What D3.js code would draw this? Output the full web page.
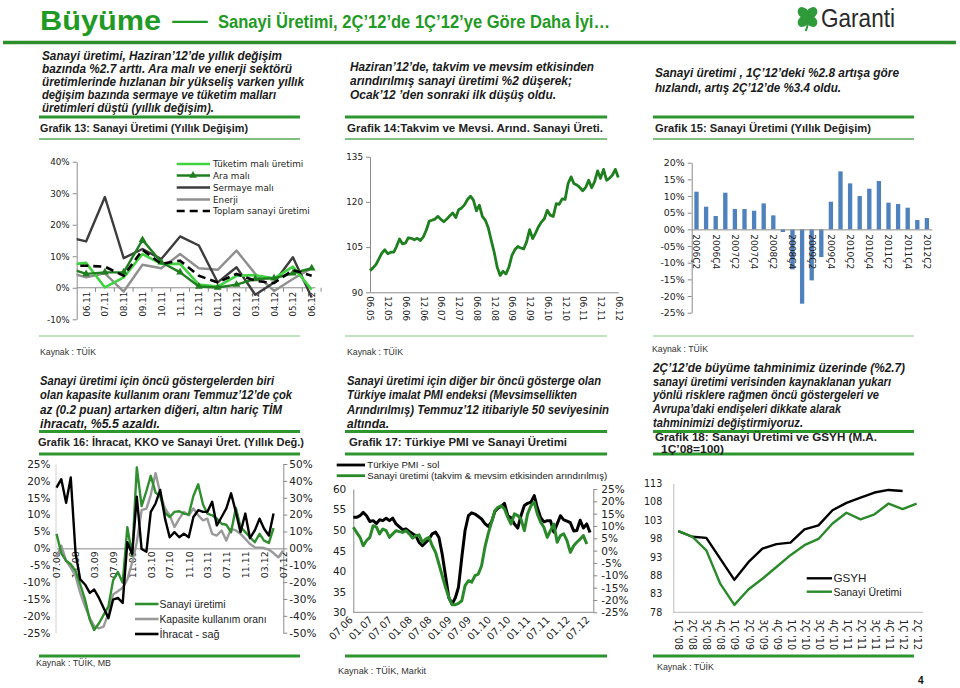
<!DOCTYPE html>
<html><head><meta charset="utf-8">
<script src="https://cdn.jsdelivr.net/npm/d3@7/dist/d3.min.js"></script>
<style>html,body{margin:0;padding:0;background:#fff}svg{display:block}</style>
</head><body>
<svg id="page" width="960" height="688"></svg>
<script>
// ================= DATA =================
// Grafik 13 – monthly yoy % (first month only partly visible at the axis)
const c13Months = ["05.11","06.11","07.11","08.11","09.11","10.11","11.11","12.11","01.12","02.12","03.12","04.12","05.12","06.12"];
const c13Tuketim = [7.3,7.9,0.1,3.3,10.7,7.6,7.6,1.0,0.4,3.8,4.0,3.0,6.7,-0.6];
const c13Ara     = [6.4,4.4,4.9,4.9,15.2,8.1,4.9,0.4,0.1,1.0,2.8,3.0,4.6,6.2];
const c13Sermaye = [16.1,14.7,28.8,9.4,12.3,9.1,16.3,13.4,1.7,6.5,-2.2,1.7,9.7,-3.1];
const c13Enerji  = [5.0,3.3,4.6,-1.2,7.3,6.2,10.7,6.2,5.7,11.8,4.4,-1.0,2.8,6.2];
const c13Toplam  = [7.0,7.0,6.7,3.8,12.0,7.6,8.6,3.8,1.7,4.4,2.2,1.5,5.6,3.8];
const c13Names   = ["Tüketim malı üretimi","Ara malı","Sermaye malı","Enerji","Toplam sanayi üretimi"];
const c13Ticks   = [-10,0,10,20,30,40];

// Grafik 14 – seasonally adjusted index, monthly from 06.05 to 06.12
const c14First  = "06.05";
const c14Values = [97.2,98.1,99.2,101.1,103.0,104.1,102.8,103.3,103.3,105.2,
  107.7,106.1,106.3,108.1,107.9,107.4,107.9,107.2,108.3,110.6,
  113.6,113.9,114.3,115.2,114.2,113.4,114.3,115.4,116.3,114.8,
  117.4,118.0,119.1,120.8,121.9,120.6,117.0,118.9,115.2,113.9,
  111.4,107.2,103.3,98.3,95.6,97.0,96.1,98.3,102.2,104.1,
  105.2,104.7,104.4,106.9,110.8,107.8,109.7,111.7,113.3,114.4,
  117.2,115.6,115.2,119.4,119.2,121.0,120.8,126.1,128.3,126.1,
  125.6,124.8,123.7,124.8,127.2,124.7,126.7,130.3,127.8,130.8,
  127.2,127.8,128.9,130.8,128.1];
const c14Labels = ["06.05","12.05","06.06","12.06","06.07","12.07","06.08","12.08","06.09","12.09","06.10","12.10","06.11","12.11","06.12"];
const c14Ticks  = [90,105,120,135];

// Grafik 15 – quarterly yoy %
const c15Quarters = ["2006Ç2","2006Ç3","2006Ç4","2007Ç1","2007Ç2","2007Ç3","2007Ç4","2008Ç1","2008Ç2","2008Ç3","2008Ç4",
  "2009Ç1","2009Ç2","2009Ç3","2009Ç4","2010Ç1","2010Ç2","2010Ç3","2010Ç4","2011Ç1","2011Ç2","2011Ç3","2011Ç4","2012Ç1","2012Ç2"];
const c15Values = [11.3,6.8,4.0,11.0,6.1,6.1,5.6,7.8,4.2,-0.8,-12.0,-22.3,-15.3,-8.3,8.3,17.4,13.8,10.0,12.2,14.5,8.0,7.6,6.5,2.8,3.4];
const c15Ticks  = [-25,-20,-15,-10,-5,0,5,10,15,20];

// Grafik 16 – monthly from 07.08
const c16First    = "07.08";
const c16Sanayi   = [4.3,-1.4,-3.7,-4.7,-6.7,-10.7,-15.2,-21.2,-24.2,-22.2,-19.7,-17.2,-9.5,-7.0,-10.2,6.3,-2.2,24.0,12.5,17.0,
  21.5,16.5,15.5,10.5,9.3,10.8,11.0,10.3,10.0,15.5,19.0,13.0,10.3,9.8,8.8,7.3,7.0,4.8,12.0,6.3,4.8,3.3,1.8,4.3,2.3,1.6,6.0];
const c16Kapasite = [-2.7,0.8,-3.7,-5.7,-8.2,-13.2,-17.2,-20.7,-23.0,-23.7,-23.2,-19.2,-13.7,-12.7,-11.7,-9.2,-4.2,1.8,11.3,11.8,
  15.8,22.3,16.3,11.8,9.8,6.3,8.8,10.8,9.8,11.8,9.8,8.3,8.8,4.3,3.8,5.3,2.3,5.8,5.3,4.3,2.8,1.3,0.3,0.2,0.1,-0.4,-1.4,-2.7,-0.7];
const c16Ihracat  = [36,41,27,42,-3,-18.4,-21.4,-26.4,-24.4,-29.4,-35.4,-41.4,-30.4,-29.4,-32.4,3.6,-3.4,30.6,-0.4,-2.0,
  21.6,26.6,34.6,17.6,6.6,9.6,6.6,8.6,6.6,18.6,22.6,21.6,21.6,27.6,13.6,18.6,23.6,32.6,21.6,9.6,20.6,6.0,10.6,17.6,11.6,7.6,20.6];
const c16Names  = ["Sanayi üretimi","Kapasite kullanım oranı","İhracat - sağ"];
const c16Labels = ["07.08","11.08","03.09","07.09","11.09","03.10","07.10","11.10","03.11","07.11","11.11","03.12","07.12"];
const c16LeftTicks  = [-25,-20,-15,-10,-5,0,5,10,15,20,25];
const c16RightTicks = [-50,-40,-30,-20,-10,0,10,20,30,40,50];

// Grafik 17 – monthly from 07.06
const c17First  = "07.06";
const c17PMI    = [53.1,53.1,53.5,54.3,53.5,52.1,52.3,51.6,52.5,52.3,52.9,52.3,52.9,51.5,50.8,50.1,50.3,49.7,49.1,48.6,
  47.0,46.2,47.0,47.8,49.1,49.5,48.2,44.2,38.9,33.6,32.0,33.6,36.1,43.4,49.9,53.5,54.2,53.9,53.3,52.7,
  51.6,50.9,52.0,54.5,55.3,55.8,56.5,53.5,53.0,51.5,50.5,53.5,56.0,56.5,56.8,58.4,55.5,53.0,52.0,52.3,
  52.3,49.5,51.5,53.5,52.5,52.2,51.8,49.8,49.9,52.4,50.5,51.5,49.4];
const c17Sanayi = [9.5,7.4,5.4,2.0,4.1,5.4,10.1,9.5,6.8,8.8,8.1,5.4,6.8,8.1,7.7,7.4,8.1,6.8,5.1,6.1,
  6.4,3.4,4.7,5.4,2.0,-0.7,-5.4,-10.1,-14.9,-18.9,-21.9,-21.9,-21.4,-20.3,-14.2,-12.2,-12.8,-10.1,-9.5,-6.1,
  1.4,6.8,11.5,16.2,17.6,18.2,16.9,13.5,10.8,14.9,14.2,12.8,8.1,14.9,18.2,19.6,14.9,11.5,9.5,5.4,
  8.1,10.8,3.4,6.1,6.8,4.1,-0.7,2.0,3.4,4.7,6.1,2.7];
const c17Names  = ["Türkiye PMI - sol","Sanayi üretimi (takvim & mevsim etkisinden arındırılmış)"];
const c17Labels = ["07.06","01.07","07.07","01.08","07.08","01.09","07.09","01.10","07.10","01.11","07.11","01.12","07.12"];
const c17LeftTicks  = [30,35,40,45,50,55,60];
const c17RightTicks = [-25,-20,-15,-10,-5,0,5,10,15,20,25];

// Grafik 18 – quarterly index, 1Ç'08 = 100
const c18Quarters = ["1Ç '08","2Ç '08","3Ç '08","4Ç '08","1Ç '09","2Ç '09","3Ç '09","4Ç '09","1Ç '10","2Ç '10","3Ç '10","4Ç '10",
  "1Ç '11","2Ç '11","3Ç '11","4Ç '11","1Ç '12","2Ç '12"];
const c18GSYH   = [100.0,98.5,98.2,92.5,86.8,91.6,95.3,96.5,96.9,100.5,101.6,105.7,107.7,109.1,110.5,111.2,110.9];
const c18Sanayi = [100.0,98.5,94.8,85.7,80.0,84.2,87.1,90.3,93.5,96.2,97.9,102.1,105.0,103.2,104.6,107.5,106.0,107.5];
const c18Names  = ["GSYH","Sanayi Üretimi"];
const c18Ticks  = [78,83,88,93,98,103,108,113];

// Texts
const pageTitle = "Büyüme";
const pageSubtitle = "Sanayi Üretimi, 2Ç’12’de 1Ç’12’ye Göre Daha İyi…";
const para1 = ["Sanayi  üretimi, Haziran’12’de yıllık değişim","bazında %2.7 arttı.  Ara malı ve enerji sektörü","üretimlerinde hızlanan bir yükseliş varken yıllık","değişim bazında sermaye ve tüketim malları","üretimleri düştü (yıllık değişim)."];
const para2 = ["Haziran’12’de, takvim ve mevsim etkisinden","arındırılmış sanayi üretimi %2 düşerek;","Ocak’12 ’den sonraki ilk düşüş oldu."];
const para3 = ["Sanayi üretimi , 1Ç’12’deki %2.8 artışa göre","hızlandı, artış 2Ç’12’de %3.4 oldu."];
const para4 = ["Sanayi üretimi için öncü göstergelerden biri","olan kapasite kullanım oranı Temmuz’12’de çok","az (0.2 puan) artarken diğeri, altın hariç TİM","ihracatı, %5.5 azaldı."];
const para5 = ["Sanayi üretimi için diğer bir öncü gösterge olan","Türkiye imalat PMI endeksi (Mevsimsellikten","Arındırılmış) Temmuz’12 itibariyle 50 seviyesinin","altında."];
const para6 = ["2Ç’12’de büyüme tahminimiz üzerinde (%2.7)","sanayi üretimi verisinden kaynaklanan yukarı","yönlü risklere rağmen öncü göstergeleri ve","Avrupa’daki endişeleri  dikkate alarak","tahminimizi değiştirmiyoruz."];
const chartTitles = ["Grafik 13: Sanayi Üretimi (Yıllık Değişim)","Grafik 14:Takvim ve Mevsi.  Arınd. Sanayi Üreti.","Grafik 15: Sanayi Üretimi (Yıllık Değişim)",
  "Grafik 16: İhracat, KKO ve Sanayi Üret. (Yıllık Değ.)","Grafik 17: Türkiye PMI ve Sanayi Üretimi","Grafik 18: Sanayi Üretimi ve GSYH (M.A.","1Ç’08=100)"];
const sources = ["Kaynak : TÜİK","Kaynak : TÜİK","Kaynak : TÜİK","Kaynak : TÜİK, MB","Kaynak : TÜİK, Markit","Kaynak : TÜİK"];

// ================= DRAWING =================
const svg = d3.select("#page");
const GREEN = "#2e962e";
const AX = "#8a8a8a";
const FONT = "DejaVu Sans";
const PFONT = "Liberation Sans";
const parseMY = d3.timeParse("%m.%y");

function addText(x, y, s, o = {}) {
  const t = svg.append("text").attr("x", x).attr("y", y).text(s)
    .attr("font-family", o.family || PFONT).attr("font-size", o.size || 11)
    .attr("font-weight", o.weight || "normal").attr("font-style", o.style || "normal")
    .attr("fill", o.fill || "#111").attr("text-anchor", o.anchor || "start");
  if (o.len) t.attr("textLength", o.len).attr("lengthAdjust", "spacingAndGlyphs");
  return t;
}
function rule(x1, x2, y, w, c) {
  svg.append("line").attr("x1", x1).attr("x2", x2).attr("y1", y).attr("y2", y)
    .attr("stroke", c || GREEN).attr("stroke-width", w || 3);
}
function styleAxis(g, size) {
  g.attr("font-family", FONT).attr("font-size", size);
  g.select(".domain").attr("stroke", AX);
  g.selectAll(".tick line").attr("stroke", AX);
  g.selectAll(".tick text").attr("fill", "#222");
}
function path(data, xf, yf, color, w, extra) {
  const p = svg.append("path").datum(data)
    .attr("d", d3.line().defined(d => d != null).x(xf).y(yf))
    .attr("fill", "none").attr("stroke", color).attr("stroke-width", w)
    .attr("stroke-linejoin", "round").attr("stroke-linecap", "butt");
  if (extra) extra(p);
  return p;
}
function rotLabels(g, angle, off) {
  g.selectAll(".tick text").attr("transform", `rotate(${angle})`)
    .attr("text-anchor", angle < 0 ? "end" : "start")
    .attr("x", angle < 0 ? -off : off).attr("y", 0).attr("dy", "0.35em");
}

// ---------- header ----------
addText(40, 30, pageTitle, {size: 28, weight: "bold", fill: "#1f9a24", len: 121});
addText(170, 28, "–", {size: 22, weight: "bold", fill: "#1f9a24", len: 40});
addText(218, 28, pageSubtitle, {size: 19, weight: "bold", fill: "#1f9a24", len: 392});
rule(3, 956, 42.5, 3.5, "#2c8f2c");
// Garanti logo
{
  const lg = svg.append("g").attr("transform", "translate(807.5,17)");
  [45, 135, 225, 315].forEach(a => {
    lg.append("ellipse").attr("cx", 0).attr("cy", -6).attr("rx", 5).attr("ry", 6.2)
      .attr("transform", `rotate(${a})`).attr("fill", "#2e9a3a");
  });
  lg.append("path").attr("d", "M0,2 Q1,9 -2,14").attr("stroke", "#2e9a3a").attr("stroke-width", 2).attr("fill", "none");
  addText(821, 27, "Garanti", {size: 25, fill: "#2a2a2a", len: 74});
}

// ---------- text blocks ----------
function para(lines, x, y0, lh, lens) {
  lines.forEach((s, i) => addText(x, y0 + i * lh, s, {size: 12, weight: "bold", style: "italic", fill: "#1a1a1a", len: lens[i]}));
}
para(para1, 42, 60, 13.1, [240, 250, 262, 234, 172]);
para(para2, 350, 71, 13.8, [244, 222, 206]);
para(para3, 655, 77, 14.5, [244, 186]);
para(para4, 40, 385, 14.3, [234, 252, 242, 120]);
para(para5, 347, 385, 14.3, [254, 230, 262, 42]);
para(para6, 653, 372, 13.7, [252, 238, 226, 188, 150]);

const cols = [[39, 300], [345, 607], [653, 914]];
cols.forEach(([a, b]) => { rule(a, b, 117, 3); rule(a, b, 139, 2, "#7fbf7f"); rule(a, b, 336, 2, "#bfe3bf"); });
cols.forEach(([a, b]) => { rule(a, b, 431.5, 3); rule(a, b, 454, 3); rule(a, b, 656, 3); });
const ttl = {size: 11.5, weight: "bold", fill: "#222"};
addText(40, 132, chartTitles[0], {...ttl, len: 208});
addText(347, 132, chartTitles[1], {...ttl, len: 256});
addText(655, 132, chartTitles[2], {...ttl, len: 216});
addText(38, 446, chartTitles[3], {...ttl, len: 266});
addText(349, 446, chartTitles[4], {...ttl, len: 218});
addText(655, 441, chartTitles[5], {...ttl, len: 222});
addText(661, 452.5, chartTitles[6], {...ttl, len: 63});
const src = {size: 9.5, fill: "#333"};
addText(40, 355, sources[0], {...src, len: 56});
addText(347, 355, sources[1], {...src, len: 56});
addText(652, 352, sources[2], {...src, len: 56});
addText(36, 666, sources[3], {...src, len: 75});
addText(338, 674, sources[4], {...src, len: 88});
addText(657, 670, sources[5], {...src, len: 57});
addText(918, 684, "4", {size: 10, weight: "bold", fill: "#111"});

// ---------- Grafik 13 ----------
{
  const x = d3.scalePoint().domain(c13Months).range([67.3, 311.7]);
  const y = d3.scaleLinear().domain([-10, 40]).range([319.3, 161.7]);
  const st = x.step(), x0 = x(c13Months[0]) + st / 2, xEnd = x(c13Months[c13Months.length - 1]) + st * 0.2;
  svg.append("clipPath").attr("id", "clip13").append("rect")
    .attr("x", x0).attr("y", 150).attr("width", xEnd - x0 + 6).attr("height", 180);
  const gy = svg.append("g").attr("transform", `translate(${x0},0)`)
    .call(d3.axisLeft(y).tickValues(c13Ticks).tickFormat(d => d + "%").tickSize(4).tickSizeOuter(0).tickPadding(3));
  styleAxis(gy, 8.8);
  const gx = svg.append("g").attr("transform", `translate(0,${y(0)})`)
    .call(d3.axisBottom(x).tickValues(c13Months.slice(1)).tickSize(0));
  gx.select(".domain").remove();
  styleAxis(gx, 8.6);
  rotLabels(gx, -90, 4);
  svg.append("line").attr("x1", x0).attr("x2", xEnd).attr("y1", y(0)).attr("y2", y(0)).attr("stroke", AX);
  c13Months.slice(1).forEach(m => svg.append("line").attr("x1", x(m) + st / 2).attr("x2", x(m) + st / 2)
    .attr("y1", y(0)).attr("y2", y(0) + 4).attr("stroke", AX));
  const X = (d, i) => x(c13Months[i]);
  const clip = p => p.attr("clip-path", "url(#clip13)");
  path(c13Enerji, X, y, "#8f8f8f", 2.4, clip);
  path(c13Sermaye, X, y, "#3d3d3d", 2.4, clip);
  path(c13Tuketim, X, y, "#3fd43f", 2.6, clip);
  path(c13Ara, X, y, "#1f7f1f", 2.4, clip);
  svg.append("g").attr("clip-path", "url(#clip13)").selectAll("path.tri").data(c13Ara).join("path")
    .attr("d", d3.symbol(d3.symbolTriangle, 26)).attr("fill", "#1f7f1f")
    .attr("transform", (d, i) => `translate(${x(c13Months[i])},${y(d)})`);
  path(c13Toplam, X, y, "#000", 2.6, p => { clip(p); p.attr("stroke-dasharray", "8,5"); });
  const lc = ["#3fd43f", "#1f7f1f", "#3d3d3d", "#8f8f8f", "#000"];
  const ly = [164, 175.5, 187.5, 199.5, 211];
  c13Names.forEach((n, i) => {
    const l = svg.append("line").attr("x1", 176.7).attr("x2", 210).attr("y1", ly[i]).attr("y2", ly[i])
      .attr("stroke", lc[i]).attr("stroke-width", 2.6);
    if (i === 4) l.attr("stroke-dasharray", "8,5");
    if (i === 1) svg.append("path").attr("d", d3.symbol(d3.symbolTriangle, 26)).attr("fill", lc[i])
      .attr("transform", `translate(193,${ly[i]})`);
    addText(213, ly[i] + 3.2, n, {family: FONT, size: 8.8, fill: "#222"});
  });
}

// ---------- Grafik 14 ----------
{
  const d0 = parseMY(c14First);
  const dates = c14Values.map((v, i) => d3.timeMonth.offset(d0, i));
  const x = d3.scaleTime().domain([dates[0], dates[dates.length - 1]]).range([370, 618.3]);
  const y = d3.scaleLinear().domain([90, 135]).range([292.3, 156.7]);
  const gy = svg.append("g").attr("transform", "translate(370,0)")
    .call(d3.axisLeft(y).tickValues(c14Ticks).tickSize(4).tickSizeOuter(0).tickPadding(3));
  styleAxis(gy, 8.8);
  const gx = svg.append("g").attr("transform", "translate(0,292.3)")
    .call(d3.axisBottom(x).tickValues(c14Labels.map(parseMY)).tickFormat(d3.timeFormat("%m.%y")).tickSize(0).tickSizeOuter(0));
  styleAxis(gx, 8.6);
  rotLabels(gx, 90, 4);
  path(c14Values, (d, i) => x(dates[i]), y, "#1e7f1e", 2.8);
}

// ---------- Grafik 15 ----------
{
  const x = d3.scaleBand().domain(c15Quarters).range([691.7, 931.7]).paddingInner(0.55).paddingOuter(0.275);
  const y = d3.scaleLinear().domain([-25, 20]).range([312.7, 162.7]);
  const fmt = d => (d < 0 ? "-" : "") + d3.format("02d")(Math.abs(d)) + "%";
  const gy = svg.append("g").attr("transform", "translate(691.7,0)")
    .call(d3.axisLeft(y).tickValues(c15Ticks).tickFormat(fmt).tickSize(4).tickSizeOuter(0).tickPadding(3));
  styleAxis(gy, 9.4);
  svg.append("g").selectAll("rect").data(c15Values).join("rect")
    .attr("x", (d, i) => x(c15Quarters[i])).attr("width", x.bandwidth())
    .attr("y", d => y(Math.max(0, d))).attr("height", d => Math.abs(y(d) - y(0)))
    .attr("fill", "#4f81bd");
  const gx = svg.append("g").attr("transform", `translate(0,${y(0)})`)
    .call(d3.axisBottom(x).tickValues(c15Quarters.filter((d, i) => i % 2 === 0)).tickSize(0).tickSizeOuter(0));
  styleAxis(gx, 9);
  rotLabels(gx, 90, 5);
}

// ---------- Grafik 16 ----------
{
  const d0 = parseMY(c16First);
  const dt = i => d3.timeMonth.offset(d0, i);
  const x = d3.scaleTime().domain([parseMY("07.08"), parseMY("07.12")]).range([56.5, 283]);
  const yL = d3.scaleLinear().domain([-25, 25]).range([632.7, 464]);
  const yR = d3.scaleLinear().domain([-50, 50]).range([632.7, 464]);
  const gl = svg.append("g").attr("transform", "translate(55.5,0)")
    .call(d3.axisLeft(yL).tickValues(c16LeftTicks).tickFormat(d => d + "%").tickSize(0).tickPadding(5));
  styleAxis(gl, 10.5);
  gl.select(".domain").attr("stroke", "#d0d0d0");
  const gr = svg.append("g").attr("transform", "translate(283.3,0)")
    .call(d3.axisRight(yR).tickValues(c16RightTicks).tickFormat(d => (d === 0 ? "00" : d) + "%").tickSize(4).tickSizeOuter(0).tickPadding(2));
  styleAxis(gr, 10.5);
  const gx = svg.append("g").attr("transform", `translate(0,${yL(0)})`)
    .call(d3.axisBottom(x).tickValues(c16Labels.map(parseMY)).tickFormat(d3.timeFormat("%m.%y")).tickSize(0).tickSizeOuter(0));
  styleAxis(gx, 9.4);
  rotLabels(gx, -90, 3);
  path(c16Kapasite, (d, i) => x(dt(i)), yL, "#9a9a9a", 2.4);
  path(c16Sanayi, (d, i) => x(dt(i)), yL, "#2f8f2f", 2.4);
  path(c16Ihracat, (d, i) => x(dt(i)), yR, "#000", 2.4);
  const lc = ["#2f8f2f", "#9a9a9a", "#000"], ly = [604, 619, 634], ll = [66, 107, 60];
  c16Names.forEach((n, i) => {
    svg.append("line").attr("x1", 135).attr("x2", 158.5).attr("y1", ly[i]).attr("y2", ly[i]).attr("stroke", lc[i]).attr("stroke-width", 2.6);
    addText(159.5, ly[i] + 3.6, n, {family: PFONT, size: 10.3, fill: "#222", len: ll[i]});
  });
}

// ---------- Grafik 17 ----------
{
  const d0 = parseMY(c17First);
  const dt = i => d3.timeMonth.offset(d0, i);
  const x = d3.scaleTime().domain([parseMY("07.06"), parseMY("07.12")]).range([353.3, 590]);
  const yL = d3.scaleLinear().domain([30, 60]).range([612.3, 489]);
  const yR = d3.scaleLinear().domain([-25, 25]).range([612.3, 489]);
  const gl = svg.append("g").attr("transform", "translate(353.3,0)")
    .call(d3.axisLeft(yL).tickValues(c17LeftTicks).tickSize(0).tickSizeOuter(0).tickPadding(7));
  styleAxis(gl, 10.5);
  const gr = svg.append("g").attr("transform", "translate(593.3,0)")
    .call(d3.axisRight(yR).tickValues(c17RightTicks).tickFormat(d => d + "%").tickSize(4).tickSizeOuter(0).tickPadding(4));
  styleAxis(gr, 10.5);
  const gx = svg.append("g").attr("transform", "translate(0,612.3)")
    .call(d3.axisBottom(x).tickValues(c17Labels.map(parseMY)).tickFormat(d3.timeFormat("%m.%y")).tickSize(0).tickSizeOuter(0));
  gx.select(".domain").attr("d", "M353.3,0H593.3");
  styleAxis(gx, 10);
  gx.selectAll(".tick text").attr("transform", "rotate(-45)").attr("text-anchor", "end").attr("x", -6).attr("y", 2).attr("dy", "0.35em");
  path(c17PMI, (d, i) => x(dt(i)), yL, "#000", 3);
  path(c17Sanayi, (d, i) => x(dt(i)), yR, "#2a8a2a", 3);
  const lc = ["#000", "#2a8a2a"], ly = [465, 475.7], ll = [72, 240];
  c17Names.forEach((n, i) => {
    svg.append("line").attr("x1", 336.7).attr("x2", 365).attr("y1", ly[i]).attr("y2", ly[i]).attr("stroke", lc[i]).attr("stroke-width", 2.8);
    addText(367.3, ly[i] + 3.4, n, {family: PFONT, size: 9.3, fill: "#222", len: ll[i]});
  });
}

// ---------- Grafik 18 ----------
{
  const x = d3.scalePoint().domain(c18Quarters).range([678.3, 916.6]);
  const y = d3.scaleLinear().domain([78, 113]).range([612.3, 483.3]);
  const gy = svg.append("g").attr("transform", "translate(673.3,0)")
    .call(d3.axisLeft(y).tickValues(c18Ticks).tickSize(0).tickSizeOuter(0).tickPadding(11));
  styleAxis(gy, 9.6);
  gy.select(".domain").attr("stroke", "#bbb");
  const gx = svg.append("g").attr("transform", "translate(0,612.3)")
    .call(d3.axisBottom(x).tickSize(0).tickSizeOuter(0));
  gx.select(".domain").attr("d", "M673.3,0H923.3").attr("stroke", "#bbb");
  styleAxis(gx, 9.6);
  gx.select(".domain").attr("stroke", "#bbb");
  rotLabels(gx, 90, 7);
  const X = (d, i) => x(c18Quarters[i]);
  path(c18GSYH, X, y, "#000", 2.4);
  path(c18Sanayi, X, y, "#2a8a2a", 2.4);
  const lc = ["#000", "#2a8a2a"], ly = [578.3, 591.7], ll = [33, 68];
  c18Names.forEach((n, i) => {
    svg.append("line").attr("x1", 806.7).attr("x2", 832).attr("y1", ly[i]).attr("y2", ly[i]).attr("stroke", lc[i]).attr("stroke-width", 2.4);
    addText(833.5, ly[i] + 4, n, {family: PFONT, size: 11.5, fill: "#222", len: ll[i]});
  });
}
</script>
</body></html>
